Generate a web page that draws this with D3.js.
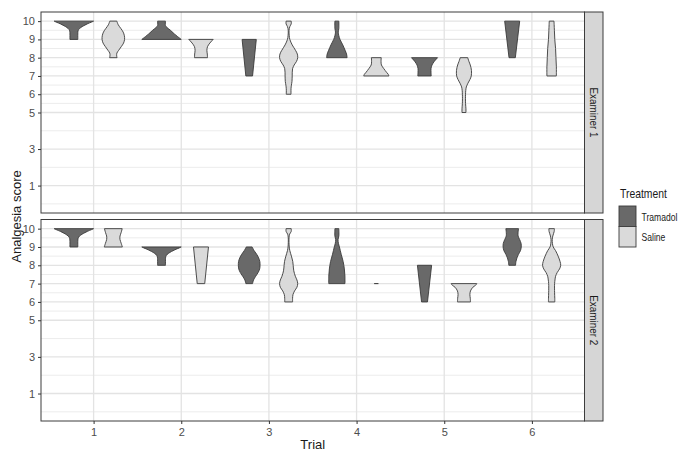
<!DOCTYPE html>
<html><head><meta charset="utf-8">
<script src="https://cdn.jsdelivr.net/npm/d3@7"></script>
<style>body{margin:0;background:#fff}</style>
</head><body><svg id="c" width="680" height="453"></svg>
<script>
const trials = ["1","2","3","4","5","6"];
const treatments = ["Tramadol","Saline"];
const examiners = ["Examiner 1","Examiner 2"];
const yTicks = [1,3,5,6,7,8,9,10];
const yMinorTicks = [0,2,4,5.5,6.5,7.5,8.5,9.5];
const fills = ["#696969","#dadada"];

// violin profiles per trial: [score, relative half-width (1 = full dodge width)]
const e1Tramadol = [
  [[10,1.0],[9.95,0.9],[9.85,0.68],[9.75,0.5],[9.65,0.35],[9.55,0.25],[9.45,0.21],[9.3,0.2],[9,0.2]],
  [[10,0.2],[9.75,0.2],[9.65,0.28],[9.5,0.45],[9.3,0.65],[9.15,0.82],[9,1.0]],
  [[9,0.36],[7,0.17]],
  [[10,0.1],[9.6,0.1],[9.4,0.07],[9.2,0.1],[9.0,0.16],[8.7,0.3],[8.4,0.42],[8.2,0.49],[8,0.52]],
  [[8,0.66],[7.8,0.5],[7.6,0.38],[7.4,0.33],[7.2,0.33],[7,0.34]],
  [[10,0.38],[8,0.16]]
];
const e1Saline = [
  [[10,0.18],[9.8,0.25],[9.6,0.38],[9.4,0.5],[9.2,0.56],[9,0.57],[8.8,0.52],[8.6,0.4],[8.4,0.27],[8.25,0.18],[8.1,0.17],[8,0.19]],
  [[9,0.62],[8.8,0.45],[8.6,0.33],[8.4,0.3],[8.2,0.32],[8,0.33]],
  [[10,0.13],[9.85,0.13],[9.7,0.06],[9.5,0.02],[9.2,0.03],[9,0.06],[8.7,0.18],[8.4,0.35],[8.2,0.44],[8,0.46],[7.8,0.4],[7.6,0.28],[7.4,0.2],[7,0.18],[6.7,0.17],[6.5,0.14],[6.3,0.12],[6,0.12]],
  [[8,0.25],[7.8,0.24],[7.6,0.26],[7.4,0.38],[7.2,0.52],[7.1,0.6],[7,0.64]],
  [[8,0.19],[7.8,0.25],[7.6,0.32],[7.3,0.38],[7,0.37],[6.8,0.3],[6.6,0.2],[6.4,0.12],[6.2,0.09],[6,0.08],[5.5,0.08],[5.2,0.1],[5,0.1]],
  [[10,0.12],[9.5,0.14],[9,0.16],[8.5,0.2],[8,0.22],[7.5,0.24],[7,0.24]]
];
const e2Tramadol = [
  [[10,1.0],[9.95,0.9],[9.85,0.68],[9.75,0.5],[9.65,0.35],[9.55,0.25],[9.45,0.21],[9.3,0.2],[9,0.2]],
  [[9,1.0],[8.95,0.9],[8.85,0.68],[8.75,0.5],[8.65,0.35],[8.55,0.25],[8.45,0.21],[8.3,0.2],[8,0.2]],
  [[9,0.15],[8.8,0.25],[8.6,0.38],[8.4,0.48],[8.2,0.54],[8,0.55],[7.8,0.53],[7.6,0.45],[7.4,0.33],[7.2,0.22],[7,0.17]],
  [[10,0.1],[9.6,0.1],[9.4,0.06],[9.2,0.08],[9,0.13],[8.6,0.22],[8.2,0.32],[7.8,0.38],[7.4,0.41],[7,0.41]],
  [[8,0.36],[6,0.15]],
  [[10,0.32],[9.8,0.3],[9.6,0.3],[9.4,0.38],[9.2,0.45],[9,0.46],[8.8,0.42],[8.6,0.32],[8.4,0.24],[8.2,0.19],[8,0.17]]
];
const e2Saline = [
  [[10,0.45],[9.8,0.4],[9.6,0.34],[9.5,0.33],[9.4,0.34],[9.2,0.4],[9,0.46]],
  [[9,0.38],[7,0.19]],
  [[10,0.13],[9.85,0.13],[9.7,0.05],[9.5,0.02],[9,0.03],[8.8,0.06],[8.5,0.14],[8.2,0.21],[8,0.23],[7.7,0.26],[7.4,0.34],[7.2,0.42],[7,0.46],[6.8,0.42],[6.6,0.3],[6.4,0.22],[6.2,0.2],[6,0.2]],
  [[7,0.11]],
  [[7,0.65],[6.9,0.58],[6.8,0.45],[6.6,0.33],[6.4,0.3],[6.2,0.32],[6,0.33]],
  [[10,0.14],[9.85,0.13],[9.6,0.06],[9.4,0.03],[9.2,0.04],[9,0.08],[8.8,0.2],[8.5,0.33],[8.2,0.43],[8,0.46],[7.8,0.4],[7.6,0.28],[7.4,0.2],[7.2,0.17],[7,0.15],[6.5,0.15],[6.2,0.16],[6,0.16]]
];
const violinData = [[e1Tramadol, e1Saline],[e2Tramadol, e2Saline]];

const FONT = '"Liberation Sans Narrow","Arial Narrow","Liberation Sans",Arial,sans-serif';
const svg = d3.select("#c").style("font-family", FONT);

const left = 41, right = 584.5, stripW = 18.5;
const panels = [{top: 12, bottom: 213}, {top: 219.5, bottom: 421}];
const x = d3.scaleLinear().domain([0.4, 6.6]).range([left, right]);
const dodge = 0.225;

panels.forEach((p, pi) => {
  const y = d3.scaleLinear().domain([-0.5, 10.5]).range([p.bottom, p.top]);
  const g = svg.append("g");
  g.append("rect").attr("x", left).attr("y", p.top).attr("width", right-left).attr("height", p.bottom-p.top).attr("fill", "#fff");
  g.selectAll(".ymin").data(yMinorTicks).join("line")
    .attr("x1", left).attr("x2", right).attr("y1", d=>y(d)).attr("y2", d=>y(d))
    .attr("stroke", "#ececec").attr("stroke-width", 1);
  g.selectAll(".ymaj").data(yTicks).join("line")
    .attr("x1", left).attr("x2", right).attr("y1", d=>y(d)).attr("y2", d=>y(d))
    .attr("stroke", "#e3e3e3").attr("stroke-width", 1.3);
  g.selectAll(".xmaj").data(trials).join("line")
    .attr("x1", (d,i)=>x(i+1)).attr("x2", (d,i)=>x(i+1)).attr("y1", p.top).attr("y2", p.bottom)
    .attr("stroke", "#e3e3e3").attr("stroke-width", 1.3);

  treatments.forEach((t, ti) => {
    const profs = violinData[pi][ti];
    profs.forEach((prof, i) => {
      const cx = i + 1 + (ti === 0 ? -dodge : dodge);
      if (prof.length === 1) {
        const [s, w] = prof[0];
        g.append("line").attr("x1", x(cx - w*dodge)).attr("x2", x(cx + w*dodge))
          .attr("y1", y(s)).attr("y2", y(s)).attr("stroke", "#333").attr("stroke-width", 1);
        return;
      }
      const area = d3.area()
        .y(d => y(d[0]))
        .x0(d => x(cx - d[1]*dodge))
        .x1(d => x(cx + d[1]*dodge))
        .curve(d3.curveCatmullRom.alpha(0.5));
      g.append("path").datum(prof).attr("d", area)
        .attr("fill", fills[ti]).attr("stroke", "#3a3a3a").attr("stroke-width", 0.9);
    });
  });

  g.append("rect").attr("x", left).attr("y", p.top).attr("width", right-left).attr("height", p.bottom-p.top)
    .attr("fill", "none").attr("stroke", "#3c3c3c").attr("stroke-width", 1);

  const ya = g.append("g").attr("transform", `translate(${left},0)`)
    .call(d3.axisLeft(y).tickValues(yTicks).tickSize(3).tickPadding(3).tickFormat(d3.format("d")));
  ya.select(".domain").remove();
  ya.selectAll(".tick line").attr("stroke", "#333");
  ya.selectAll(".tick text").attr("fill", "#4d4d4d").style("font-size", "11px").style("font-family", FONT);

  g.append("rect").attr("x", right).attr("y", p.top).attr("width", stripW).attr("height", p.bottom-p.top)
    .attr("fill", "#d6d6d6").attr("stroke", "#3c3c3c").attr("stroke-width", 1);
  g.append("text").attr("transform", `translate(${right + stripW/2},${(p.top+p.bottom)/2}) rotate(90) scale(0.9,1)`)
    .attr("text-anchor", "middle").attr("dominant-baseline", "central")
    .attr("fill", "#1a1a1a").style("font-size", "11px").text(examiners[pi]);

  if (pi === 1) {
    const xa = g.append("g").attr("transform", `translate(0,${p.bottom})`)
      .call(d3.axisBottom(x).tickValues([1,2,3,4,5,6]).tickSize(3).tickPadding(4).tickFormat(d => trials[d-1]));
    xa.select(".domain").remove();
    xa.selectAll(".tick line").attr("stroke", "#333");
    xa.selectAll(".tick text").attr("fill", "#4d4d4d").style("font-size", "11px").style("font-family", FONT);
  }
});

svg.append("text").attr("x", (left+right)/2).attr("y", 449).attr("text-anchor", "middle")
  .style("font-size", "13px").attr("fill", "#1a1a1a").text("Trial");
svg.append("text").attr("transform", `translate(21,216.5) rotate(-90)`).attr("text-anchor", "middle")
  .style("font-size", "13px").attr("fill", "#1a1a1a").text("Analgesia score");

const lg = svg.append("g");
lg.append("text").attr("transform", "translate(620,198) scale(0.8,1)").style("font-size", "13px")
  .attr("fill", "#1a1a1a").text("Treatment");
treatments.forEach((t, i) => {
  const ky = 206 + i*20.5;
  lg.append("rect").attr("x", 619).attr("y", ky).attr("width", 17).attr("height", 20.5)
    .attr("fill", fills[i]).attr("stroke", "#3a3a3a").attr("stroke-width", 0.9);
  lg.append("text").attr("transform", `translate(641.5,${ky + 14.5}) scale(0.78,1)`)
    .style("font-size", "11px").attr("fill", "#1a1a1a").text(t);
});
</script></body></html>
